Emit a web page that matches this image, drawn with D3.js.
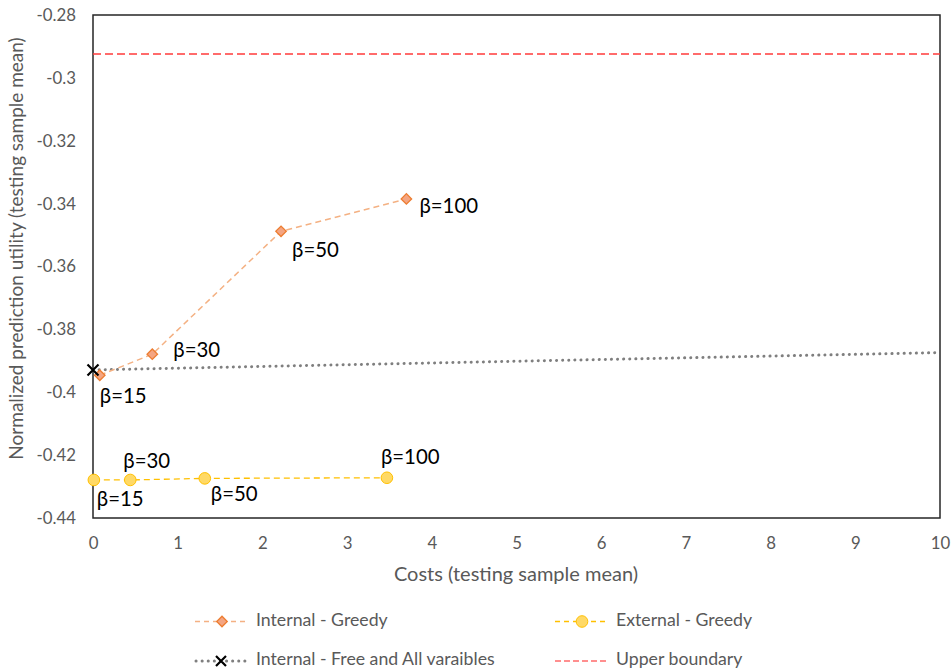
<!DOCTYPE html>
<html><head><meta charset="utf-8">
<script src="https://cdn.jsdelivr.net/npm/d3@7"></script>
<style>body{margin:0;background:#fff;} text{font-family:Lato,"Open Sans",sans-serif;}</style>
</head><body><svg id="c" width="952" height="672"></svg>
<script>
// Data
const betaLabels = ["β=15","β=30","β=50","β=100"];
const internalGreedyX = [0.08, 0.70, 2.22, 3.70];
const internalGreedyY = [-0.3946, -0.3879, -0.3488, -0.3385];
const externalGreedyX = [0.01, 0.44, 1.32, 3.47];
const externalGreedyY = [-0.4279, -0.4279, -0.4274, -0.4272];
const freeAllX = [0, 10];
const freeAllY = [-0.3929, -0.3874];
const upperBoundary = -0.2924;
const xTicks = [0,1,2,3,4,5,6,7,8,9,10];
const yTicks = [-0.28,-0.3,-0.32,-0.34,-0.36,-0.38,-0.4,-0.42,-0.44];
const legendNames = ["Internal - Greedy","External - Greedy","Internal - Free and All varaibles","Upper boundary"];

const svg = d3.select("#c");
const L=93, R=940, T=15, B=518;
const x = d3.scaleLinear().domain([0,10]).range([L,R]);
const y = d3.scaleLinear().domain([-0.44,-0.28]).range([B,T]);

// axes
const xAxis = svg.append("g").attr("transform",`translate(0,${B})`)
  .call(d3.axisBottom(x).tickValues(xTicks).tickSize(0).tickPadding(19).tickFormat(d3.format("d")));
const yAxis = svg.append("g").attr("transform",`translate(${L},0)`)
  .call(d3.axisLeft(y).tickValues(yTicks).tickSize(0).tickPadding(17).tickFormat(d=>String(+d.toFixed(2))));
[xAxis,yAxis].forEach(a=>{a.select(".domain").remove();
  a.selectAll("text").attr("fill","#595959").style("font-size","16.8px").style("font-family","Lato,sans-serif");});

// frame
svg.append("rect").attr("x",L).attr("y",T).attr("width",R-L).attr("height",B-T)
  .attr("fill","none").attr("stroke","#262626").attr("stroke-width",1.5);

// axis titles
svg.append("text").attr("x",516).attr("y",576).attr("text-anchor","middle").attr("dominant-baseline","middle")
  .attr("fill","#595959").style("font-size","20px").text("Costs (testing sample mean)");
svg.append("text").attr("transform",`translate(18,${(20+477)/2}) rotate(-90)`).attr("text-anchor","middle")
  .attr("dominant-baseline","middle")
  .attr("fill","#595959").style("font-size","19px").text("Normalized prediction utility (testing sample mean)");

const line = d3.line().x(d=>x(d[0])).y(d=>y(d[1]));

// upper boundary
svg.append("path").attr("d",line([[0,upperBoundary],[10,upperBoundary]]))
  .attr("stroke","#FF3B3B").attr("stroke-width",1.3).attr("stroke-dasharray","8,4").attr("fill","none");

// free & all
svg.append("path").attr("d",line(freeAllX.map((v,i)=>[v,freeAllY[i]])))
  .attr("stroke","#7f7f7f").attr("stroke-width",3).attr("stroke-dasharray","0.1,6").attr("stroke-linecap","round").attr("fill","none");

// internal greedy
const ig = internalGreedyX.map((v,i)=>[v,internalGreedyY[i]]);
svg.append("path").attr("d",line(ig)).attr("stroke","#F4B183").attr("stroke-width",1.5)
  .attr("stroke-dasharray","6,4").attr("fill","none");
const diamond = d3.symbol().type(d3.symbolSquare).size(55);
svg.selectAll(".ig").data(ig).join("path")
  .attr("d",diamond()).attr("transform",d=>`translate(${x(d[0])},${y(d[1])}) rotate(45)`)
  .attr("fill","#F4A582").attr("stroke","#ED7D31").attr("stroke-width",1.3);

// external greedy
const eg = externalGreedyX.map((v,i)=>[v,externalGreedyY[i]]);
svg.append("path").attr("d",line(eg)).attr("stroke","#FFC000").attr("stroke-width",1.3)
  .attr("stroke-dasharray","6,4").attr("fill","none");
svg.selectAll(".eg").data(eg).join("circle")
  .attr("cx",d=>x(d[0])).attr("cy",d=>y(d[1])).attr("r",5.8)
  .attr("fill","#FFD966").attr("stroke","#FFC000").attr("stroke-width",1);

// X marker
function xMark(g,cx,cy,s){
  g.append("path").attr("d",`M${cx-s},${cy-s}L${cx+s},${cy+s}M${cx-s},${cy+s}L${cx+s},${cy-s}`)
   .attr("stroke","#000").attr("stroke-width",2.2).attr("fill","none");
}
xMark(svg,x(freeAllX[0]),y(freeAllY[0]),5.5);

// labels
const igOff = [[0,23],[21,-2],[11,21],[13,9]];
const egOff = [[3,21],[-7,-17],[6,17],[-6,-19]];
ig.forEach((d,i)=>svg.append("text").attr("x",x(d[0])+igOff[i][0]).attr("y",y(d[1])+igOff[i][1])
  .attr("dominant-baseline","middle").attr("fill","#000").style("font-size","20.4px").text(betaLabels[i]));
eg.forEach((d,i)=>svg.append("text").attr("x",x(d[0])+egOff[i][0]).attr("y",y(d[1])+egOff[i][1])
  .attr("dominant-baseline","middle").attr("fill","#000").style("font-size","20.4px").text(betaLabels[i]));

// legend
const lg = svg.append("g");
const rows=[[195,621.5],[555,621.5],[195,661],[555,661]];
// 0 internal greedy
lg.append("line").attr("x1",195).attr("x2",249).attr("y1",621.5).attr("y2",621.5)
  .attr("stroke","#F4B183").attr("stroke-width",1.5).attr("stroke-dasharray","5,4");
lg.append("path").attr("d",diamond()).attr("transform","translate(222,621.5) rotate(45)")
  .attr("fill","#F4A582").attr("stroke","#ED7D31").attr("stroke-width",1.3);
// 1 external greedy
lg.append("line").attr("x1",555).attr("x2",609).attr("y1",621.5).attr("y2",621.5)
  .attr("stroke","#FFC000").attr("stroke-width",1.3).attr("stroke-dasharray","5,4");
lg.append("circle").attr("cx",582).attr("cy",621.5).attr("r",5.8).attr("fill","#FFD966").attr("stroke","#FFC000");
// 2 free all
lg.append("line").attr("x1",196).attr("x2",249).attr("y1",661).attr("y2",661)
  .attr("stroke","#7f7f7f").attr("stroke-width",3).attr("stroke-dasharray","0.1,6").attr("stroke-linecap","round");
xMark(lg,221,661,5);
// 3 upper
lg.append("line").attr("x1",555).attr("x2",609).attr("y1",661).attr("y2",661)
  .attr("stroke","#FF6B6B").attr("stroke-width",1.3).attr("stroke-dasharray","6,3");
legendNames.forEach((n,i)=>lg.append("text").attr("x",rows[i][0]+61).attr("y",rows[i][1])
  .attr("dominant-baseline","middle").attr("fill","#595959").style("font-size","17.7px").text(n));
</script></body></html>
